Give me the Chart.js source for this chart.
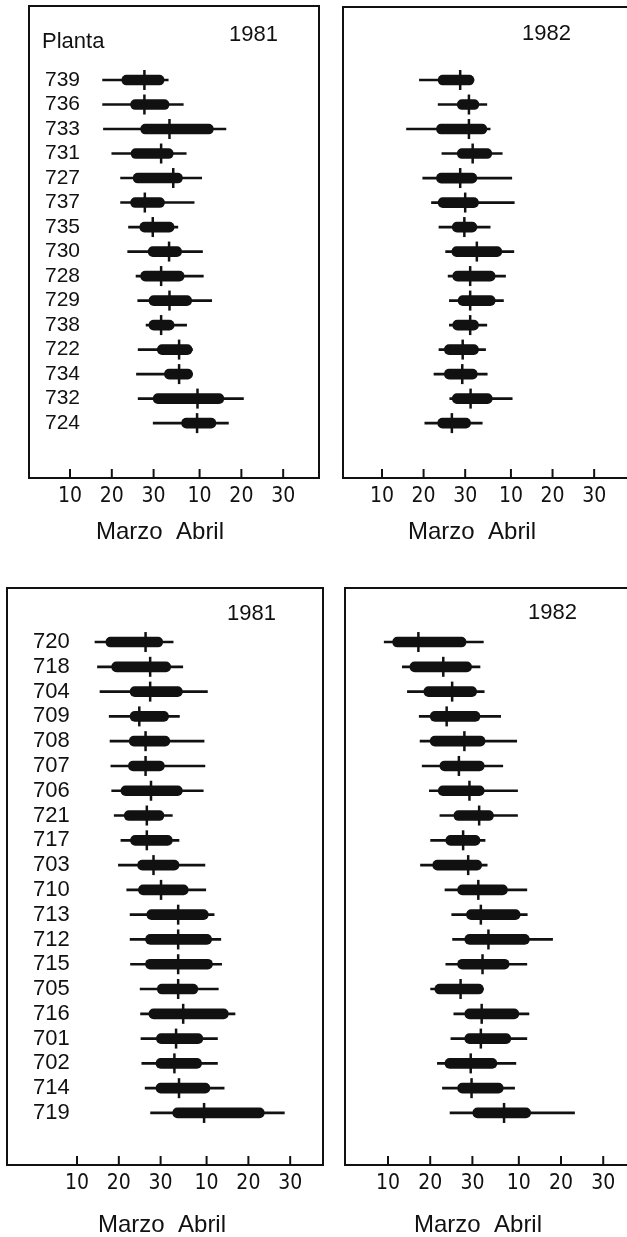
<!DOCTYPE html>
<html>
<head>
<meta charset="utf-8">
<script src="https://cdn.jsdelivr.net/npm/chart.js@4"></script>
<style>
  body { margin: 0; width: 627px; height: 1237px; overflow: hidden; background: #fff; position: relative;
         font-family: 'Liberation Sans', Arial, sans-serif; color: #111; }
  canvas { position: absolute; }
  .t { position: absolute; line-height: 1; white-space: nowrap; }
</style>
</head>
<body>
<canvas id="c81a" width="330" height="560" style="left:0;top:0"></canvas>
<canvas id="c82a" width="340" height="560" style="left:330px;top:0"></canvas>
<canvas id="c81b" width="330" height="657" style="left:0;top:580px"></canvas>
<canvas id="c82b" width="340" height="657" style="left:330px;top:580px"></canvas>

<div class="t" style="left:42px;top:30px;font-size:22px">Planta</div>
<div class="t" style="left:229px;top:23px;font-size:22px">1981</div>
<div class="t" style="left:522px;top:22px;font-size:22px">1982</div>
<div class="t" style="left:227px;top:602px;font-size:22px">1981</div>
<div class="t" style="left:528px;top:601px;font-size:22px">1982</div>
<div class="t" style="left:96px;top:519px;font-size:24px;word-spacing:8px">Marzo Abril</div>
<div class="t" style="left:408px;top:519px;font-size:24px;word-spacing:8px">Marzo Abril</div>
<div class="t" style="left:98px;top:1212px;font-size:24px;word-spacing:8px">Marzo Abril</div>
<div class="t" style="left:414px;top:1212px;font-size:24px;word-spacing:8px">Marzo Abril</div>

<script>
// days counted from 1 March (April 10 = 41)
var tickDays = [10, 20, 30, 41, 51, 61];
var tickText = ['10', '20', '30', '10', '20', '30'];

var plantsTop = ['739','736','733','731','727','737','735','730','728','729','738','722','734','732','724'];
var top81Min = [17.8, 17.8, 18.0, 20.0, 22.1, 22.1, 24.0, 23.8, 25.8, 26.2, 28.2, 26.3, 25.9, 26.3, 29.9];
var top81Lo  = [22.4, 24.5, 26.9, 24.6, 25.1, 24.5, 26.7, 28.7, 26.9, 28.9, 28.9, 30.9, 32.6, 29.9, 36.7];
var top81Med = [27.8, 27.8, 33.8, 31.8, 34.7, 27.9, 29.8, 33.7, 31.8, 33.8, 31.8, 36.1, 36.1, 40.5, 40.4];
var top81Hi  = [32.5, 33.7, 44.3, 34.7, 36.9, 32.6, 34.9, 36.7, 37.3, 39.1, 34.9, 39.2, 39.3, 46.8, 44.9];
var top81Max = [33.5, 37.1, 47.3, 37.8, 41.5, 39.7, 35.8, 41.7, 41.9, 43.9, 37.9, 39.3, 39.3, 51.5, 47.9];

var top82Min = [19.0, 23.5, 15.9, 24.4, 19.8, 21.9, 23.7, 25.3, 25.9, 26.2, 26.2, 23.7, 22.5, 26.3, 20.3];
var top82Lo  = [23.5, 28.1, 23.1, 28.1, 23.1, 23.5, 26.9, 26.8, 27.0, 28.3, 27.0, 25.0, 25.0, 26.9, 23.4];
var top82Med = [28.8, 30.9, 30.9, 31.8, 28.8, 30.0, 29.8, 32.8, 31.2, 31.2, 31.2, 29.4, 29.3, 31.3, 26.8];
var top82Hi  = [32.1, 33.3, 35.2, 36.4, 32.8, 33.2, 32.8, 38.8, 37.2, 37.2, 33.2, 33.2, 32.9, 36.5, 31.3];
var top82Max = [32.1, 35.2, 36.0, 38.9, 41.2, 41.8, 36.0, 41.7, 39.7, 39.2, 35.2, 34.9, 35.3, 41.3, 34.1];

var plantsBot = ['720','718','704','709','708','707','706','721','717','703','710','713','712','715','705','716','701','702','714','719'];
var bot81Min = [14.3, 14.9, 15.5, 17.7, 17.9, 18.1, 18.3, 18.9, 20.5, 19.9, 21.9, 22.7, 22.7, 22.8, 25.1, 25.2, 25.3, 25.5, 26.3, 27.6];
var bot81Lo  = [16.9, 18.3, 22.7, 22.7, 22.5, 22.3, 20.5, 21.3, 22.8, 24.5, 24.7, 26.7, 26.4, 26.4, 29.2, 27.2, 29.0, 28.9, 28.9, 32.9];
var bot81Med = [26.4, 27.5, 27.5, 24.9, 26.4, 26.4, 27.7, 26.7, 26.7, 28.3, 30.1, 34.2, 34.2, 34.2, 34.2, 35.4, 33.7, 33.3, 34.4, 40.4];
var bot81Hi  = [30.5, 32.4, 35.2, 31.9, 32.2, 30.9, 35.2, 30.8, 32.8, 34.4, 36.6, 41.4, 42.2, 42.4, 38.9, 46.2, 40.1, 39.8, 41.8, 54.8];
var bot81Max = [33.0, 35.3, 41.2, 34.5, 40.4, 40.6, 40.2, 32.8, 34.4, 40.6, 40.8, 42.8, 44.4, 44.6, 43.8, 47.8, 43.6, 43.6, 45.2, 59.6];

var bot82Min = [9.1, 13.4, 14.6, 17.4, 17.6, 18.1, 19.8, 22.3, 20.1, 17.7, 23.5, 25.1, 25.3, 23.7, 20.1, 25.6, 24.9, 21.7, 22.9, 24.7];
var bot82Lo  = [11.1, 15.2, 18.5, 20.0, 20.0, 22.3, 21.9, 25.6, 23.7, 20.6, 26.5, 28.6, 28.2, 26.5, 21.1, 28.2, 28.2, 23.5, 26.5, 30.1];
var bot82Med = [17.2, 23.1, 25.2, 23.9, 28.1, 26.8, 29.3, 31.6, 27.8, 29.0, 31.4, 32.0, 33.8, 32.4, 27.2, 32.2, 32.0, 29.6, 29.8, 37.5];
var bot82Hi  = [28.5, 29.8, 31.0, 31.8, 33.0, 32.8, 32.8, 35.0, 31.8, 32.2, 38.3, 41.3, 43.5, 38.7, 32.6, 41.0, 39.1, 35.8, 37.3, 43.8];
var bot82Max = [32.6, 31.8, 32.8, 36.7, 40.5, 37.2, 40.7, 40.7, 33.0, 33.5, 42.9, 43.0, 49.0, 42.9, 32.6, 43.4, 42.9, 40.3, 40.0, 54.2];

var ink = '#111';
var tickFont = "'Liberation Sans Narrow', 'DejaVu Sans Condensed', 'Liberation Sans', sans-serif";

// box round the plot area, with the day ticks pointing inward
var frame = {
  id: 'frame',
  afterDraw: function(chart) {
    var ctx = chart.ctx, a = chart.chartArea, x = chart.scales.x;
    ctx.save();
    ctx.strokeStyle = ink;
    ctx.lineWidth = 2;
    ctx.strokeRect(a.left, a.top, a.right - a.left, a.bottom - a.top);
    x.ticks.forEach(function(t) {
      var px = x.getPixelForValue(t.value);
      ctx.beginPath();
      ctx.moveTo(px, a.bottom);
      ctx.lineTo(px, a.bottom - 9);
      ctx.stroke();
    });
    ctx.restore();
  }
};

function panel(id, plants, mn, lo, med, hi, mx, o) {
  new Chart(document.getElementById(id), {
    type: 'bar',
    data: {
      datasets: [
        { data: mn.map(function(v, i) { return { x: [v, mx[i]], y: i }; }),
          barThickness: 2, backgroundColor: ink, grouped: false },
        { data: lo.map(function(v, i) { return { x: [v, hi[i]], y: i }; }),
          barThickness: 10, borderRadius: 5, borderSkipped: false, backgroundColor: ink, grouped: false },
        { type: 'scatter', data: med.map(function(v, i) { return { x: v, y: i }; }),
          pointStyle: 'line', rotation: 90, pointRadius: 10, borderWidth: 2.5, borderColor: ink }
      ]
    },
    options: {
      indexAxis: 'y',
      responsive: false,
      animation: false,
      events: [],
      layout: { padding: o.pad, autoPadding: false },
      plugins: { legend: { display: false }, tooltip: { enabled: false } },
      scales: {
        x: {
          type: 'linear', min: o.xmin, max: o.xmax,
          afterBuildTicks: function(s) { s.ticks = tickDays.map(function(v) { return { value: v }; }); },
          afterFit: function(s) { s.height = 40; s.paddingLeft = 0; s.paddingRight = 0; },
          grid: { display: false, drawTicks: false },
          border: { display: false },
          ticks: { autoSkip: false, maxRotation: 0, padding: 6, color: ink,
                   font: { family: tickFont, size: 21 },
                   callback: function(v, i) { return tickText[i]; } }
        },
        y: {
          type: 'linear', reverse: true, offset: false, min: o.ymin, max: o.ymax,
          afterBuildTicks: function(s) { s.ticks = plants.map(function(p, i) { return { value: i }; }); },
          afterFit: function(s) { s.width = 0; s.paddingTop = 0; s.paddingBottom = 0; },
          grid: { display: false, drawTicks: false, offset: false },
          border: { display: false },
          ticks: { display: o.labels, mirror: true, padding: o.labelPad, autoSkip: false, color: ink,
                   font: { family: "'Liberation Sans', Arial, sans-serif", size: o.fs },
                   callback: function(v) { return plants[v]; } }
        }
      }
    },
    plugins: [frame]
  });
}

panel('c81a', plantsTop, top81Min, top81Lo, top81Med, top81Hi, top81Max,
  { pad: { left: 29, top: 6, right: 11, bottom: 42 }, xmin: 0.19, xmax: 69.57, ymin: -3.02, ymax: 16.24, labels: true, labelPad: 16, fs: 21 });
panel('c82a', plantsTop, top82Min, top82Lo, top82Med, top82Hi, top82Max,
  { pad: { left: 13, top: 7, right: 10, bottom: 42 }, xmin: 0.63, xmax: 76.83, ymin: -2.98, ymax: 16.24, labels: false, labelPad: 0, fs: 21 });
panel('c81b', plantsBot, bot81Min, bot81Lo, bot81Med, bot81Hi, bot81Max,
  { pad: { left: 7, top: 8, right: 7, bottom: 32 }, xmin: -6.75, xmax: 68.85, ymin: -2.18, ymax: 21.10, labels: true, labelPad: 26, fs: 22 });
panel('c82b', plantsBot, bot82Min, bot82Lo, bot82Med, bot82Hi, bot82Max,
  { pad: { left: 15, top: 8, right: 5, bottom: 32 }, xmin: -0.19, xmax: 75.64, ymin: -2.18, ymax: 21.10, labels: false, labelPad: 0, fs: 22 });
</script>
</body>
</html>
